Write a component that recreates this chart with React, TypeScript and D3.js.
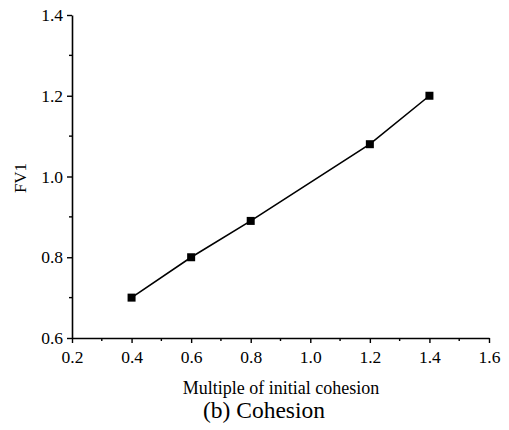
import React, { useEffect, useRef } from "react";
import * as d3 from "d3";

const multiples = [0.4, 0.6, 0.8, 1.2, 1.4];
const fv1 = [0.7, 0.8, 0.89, 1.08, 1.2];
const xTicks = [0.2, 0.4, 0.6, 0.8, 1.0, 1.2, 1.4, 1.6];
const yTicks = [0.6, 0.8, 1.0, 1.2, 1.4];

const FONT = "'Liberation Serif', 'Times New Roman', serif";

const App: React.FC = () => {
  const ref = useRef<SVGSVGElement>(null);

  useEffect(() => {
    if (!ref.current) return;
    const svg = d3.select(ref.current);
    svg.selectAll("*").remove();

    const x = d3.scaleLinear().domain([0.2, 1.6]).range([72, 489]);
    const y = d3.scaleLinear().domain([0.6, 1.4]).range([338, 15]);

    // minor ticks halfway between majors
    const xMinor = d3.range(0.3, 1.6, 0.2);
    const yMinor = d3.range(0.7, 1.4, 0.2);

    const xAxis = svg
      .append("g")
      .attr("transform", "translate(0,338)")
      .call(
        d3
          .axisBottom(x)
          .tickValues(xTicks)
          .tickFormat(d3.format(".1f"))
          .tickSize(5)
          .tickSizeOuter(0)
          .tickPadding(8)
      );
    const yAxis = svg
      .append("g")
      .attr("transform", "translate(72,0)")
      .call(
        d3
          .axisLeft(y)
          .tickValues(yTicks)
          .tickFormat(d3.format(".1f"))
          .tickSize(5)
          .tickSizeOuter(0)
          .tickPadding(4)
      );

    [xAxis, yAxis].forEach((a) => {
      a.attr("font-family", null).attr("font-size", null);
      a.select(".domain").attr("stroke", "#000").attr("stroke-width", 1.6);
      a.selectAll(".tick line").attr("stroke", "#000").attr("stroke-width", 1.4);
      a.selectAll(".tick text")
        .attr("fill", "#000")
        .style("font-family", FONT)
        .style("font-size", "17.5px");
    });

    xAxis
      .selectAll(".minor")
      .data(xMinor)
      .enter()
      .append("line")
      .attr("x1", (d) => x(d))
      .attr("x2", (d) => x(d))
      .attr("y1", 0)
      .attr("y2", 3)
      .attr("stroke", "#000")
      .attr("stroke-width", 1.4);
    yAxis
      .selectAll(".minor")
      .data(yMinor)
      .enter()
      .append("line")
      .attr("y1", (d) => y(d))
      .attr("y2", (d) => y(d))
      .attr("x1", 0)
      .attr("x2", -3)
      .attr("stroke", "#000")
      .attr("stroke-width", 1.4);

    const pts = multiples.map((m, i) => [m, fv1[i]] as [number, number]);
    const line = d3
      .line<[number, number]>()
      .x((d) => x(d[0]))
      .y((d) => y(d[1]));

    svg
      .append("path")
      .datum(pts)
      .attr("d", line)
      .attr("fill", "none")
      .attr("stroke", "#000")
      .attr("stroke-width", 1.6);

    svg
      .selectAll(".pt")
      .data(pts)
      .enter()
      .append("rect")
      .attr("x", (d) => x(d[0]) - 4)
      .attr("y", (d) => y(d[1]) - 4)
      .attr("width", 8)
      .attr("height", 8)
      .attr("fill", "#000");

    svg
      .append("text")
      .attr("x", 281)
      .attr("y", 394)
      .attr("text-anchor", "middle")
      .style("font-family", FONT)
      .style("font-size", "18px")
      .text("Multiple of initial cohesion");

    svg
      .append("text")
      .attr("x", 264)
      .attr("y", 418)
      .attr("text-anchor", "middle")
      .style("font-family", FONT)
      .style("font-size", "23.5px")
      .text("(b) Cohesion");

    svg
      .append("text")
      .attr("transform", "translate(26,178) rotate(-90)")
      .attr("text-anchor", "middle")
      .style("font-family", FONT)
      .style("font-size", "17px")
      .text("FV1");
  }, []);

  return (
    <svg
      ref={ref}
      width={509}
      height={430}
      style={{ position: "absolute", left: 0, top: 0, background: "#fff" }}
    />
  );
};

export default App;
